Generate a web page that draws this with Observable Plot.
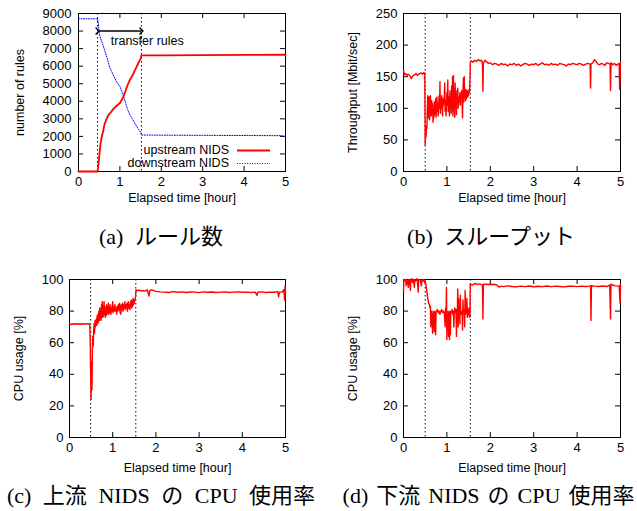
<!DOCTYPE html>
<html><head><meta charset="utf-8">
<script src="https://cdn.jsdelivr.net/npm/d3@7"></script>
<script src="https://cdn.jsdelivr.net/npm/@observablehq/plot@0.6"></script>
<style>
html,body{margin:0;padding:0;background:#fff}
#root{position:relative;width:637px;height:511px;overflow:hidden;background:#fff}
.cap{position:absolute;white-space:nowrap;transform:translate(-50%,-50%);font-family:"Liberation Serif","Noto Sans CJK JP",serif;font-size:22px;color:#000;line-height:1;word-spacing:6px}
.cap .jp{font-family:"Noto Sans CJK JP",sans-serif}
.leg{position:absolute;font-family:"Liberation Sans",Arial,sans-serif;font-size:12.5px;color:#000;white-space:nowrap;line-height:1}
</style>
</head><body>
<div id="root"></div>
<script>
// ---------- data ----------
const xTicks = [0, 1, 2, 3, 4, 5];
const yTicksRules = [0, 1000, 2000, 3000, 4000, 5000, 6000, 7000, 8000, 9000];
const yTicksThr = [0, 50, 100, 150, 200, 250];
const yTicksCpu = [0, 20, 40, 60, 80, 100];

const seriesNames = ["upstream NIDS", "downstream NIDS"];
const xLabel = "Elapsed time [hour]";
const yLabels = ["number of rules", "Throughput [Mbit/sec]", "CPU usage [%]", "CPU usage [%]"];

// transfer period boundaries (hours)
const eventsA = [0.46, 1.52];
const eventsB = [0.5, 1.54];
const eventsC = [0.49, 1.535];
const eventsD = [0.5, 1.54];
const transferLabel = "transfer rules";
const transferArrow = {x1: 0.46, x2: 1.52, y: 8000};
const transferText = {x: 0.78, y: 7450};

// (a) number of rules
const tUp =   [0, 0.46, 0.47, 0.48, 0.50, 0.53, 0.56, 0.60, 0.63, 0.67, 0.71, 0.75, 0.79, 0.84, 0.90, 0.95, 1.00, 1.05, 1.10, 1.15, 1.20, 1.25, 1.30, 1.35, 1.40, 1.45, 1.50, 1.52, 2.0, 3.0, 4.0, 5.0];
const nUp =   [0, 0,    150,  400,  820,  1550, 1950, 2350, 2700, 2950, 3150, 3300, 3400, 3550, 3700, 3800, 3900, 4100, 4350, 4700, 5000, 5250, 5450, 5700, 5950, 6200, 6430, 6620, 6620, 6630, 6640, 6650];
const tDown = [0, 0.46, 0.48, 0.50, 0.53, 0.56, 0.60, 0.65, 0.70, 0.75, 0.80, 0.85, 0.90, 0.95, 1.00, 1.05, 1.10, 1.15, 1.20, 1.25, 1.30, 1.35, 1.40, 1.45, 1.50, 1.52, 2.0, 3.0, 4.0, 4.9, 5.0];
const nDown = [8700, 8700, 8400, 7900, 7600, 7400, 7150, 6750, 6400, 5950, 5700, 5450, 5200, 5000, 4850, 4550, 4200, 3800, 3450, 3200, 3000, 2800, 2600, 2400, 2250, 2080, 2070, 2060, 2050, 2040, 2000];

// (b) throughput [Mbit/sec]
const tThr = [0.00,0.02,0.05,0.08,0.10,0.13,0.16,0.18,0.20,0.23,0.26,0.29,0.32,0.35,0.38,0.41,0.44,0.47,0.49,
 0.50,0.51,0.52,0.53,0.54,0.55,0.56,0.57,0.58,0.59,0.60,0.61,0.62,0.63,0.64,0.65,0.66,0.67,0.68,0.69,0.70,
 0.71,0.72,0.73,0.74,0.75,0.76,0.77,0.78,0.79,0.80,0.82,0.83,0.84,0.85,0.86,0.87,0.88,0.90,0.91,0.92,0.94,
 0.95,0.96,0.97,0.98,1.00,1.01,1.02,1.03,1.04,1.05,1.06,1.07,1.08,1.09,1.10,1.11,1.12,1.13,1.14,1.15,1.16,
 1.17,1.18,1.19,1.20,1.21,1.22,1.23,1.24,1.25,1.26,1.28,1.29,1.30,1.31,1.32,1.33,1.34,1.35,1.36,1.37,1.38,
 1.39,1.40,1.41,1.42,1.43,1.44,1.45,1.46,1.47,1.48,1.49,1.50,1.51,1.52,1.53,1.54,1.56,1.60,1.64,1.68,1.72,
 1.76,1.80,1.82,1.83,1.84,1.88,1.92,1.96,2.00,2.05,2.10,2.15,2.20,2.25,2.30,2.35,2.40,2.45,2.50,2.55,2.60,
 2.65,2.70,2.75,2.80,2.85,2.90,2.95,3.00,3.05,3.10,3.15,3.20,3.25,3.30,3.35,3.40,3.45,3.50,3.55,3.60,3.65,
 3.70,3.75,3.80,3.85,3.90,3.95,4.00,4.05,4.10,4.15,4.20,4.25,4.30,4.31,4.32,4.36,4.40,4.44,4.48,4.52,4.56,
 4.60,4.64,4.68,4.72,4.76,4.77,4.78,4.82,4.86,4.90,4.94,4.97,4.98,5.00];
const vThr = [160,153,155,152,154,153,150,147,150,152,153,155,152,154,155,156,154,157,155,
 42,65,55,72,68,100,120,85,110,118,82,95,120,105,88,112,98,107,78,95,85,
 110,98,90,115,86,102,118,95,108,88,120,100,142,92,110,100,120,88,115,105,118,
 140,95,112,88,125,105,145,95,118,110,88,128,100,118,92,135,98,150,88,152,95,
 130,86,140,100,120,90,128,108,132,100,118,110,125,105,120,115,128,112,85,125,148,
 110,150,118,125,112,130,115,120,128,118,125,120,130,125,140,172,175,173,176,174,177,
 175,176,170,127,172,176,173,171,172,169,171,170,168,171,169,170,167,170,169,171,168,
 170,167,169,171,170,168,170,169,171,168,170,172,169,170,168,171,169,170,168,171,170,
 169,167,170,169,171,170,169,171,170,168,170,171,170,132,170,172,177,174,170,169,171,
 170,168,172,171,170,128,172,169,171,168,170,171,130,174];

// (c) upstream NIDS CPU usage [%]
const tCpuUp = [0.00,0.05,0.10,0.15,0.20,0.25,0.30,0.35,0.40,0.45,0.47,0.48,0.49,0.50,0.51,0.52,0.53,0.54,0.55,
 0.56,0.57,0.58,0.59,0.60,0.62,0.63,0.64,0.65,0.66,0.67,0.68,0.69,0.70,0.71,0.72,0.73,0.74,0.75,0.76,0.77,
 0.78,0.79,0.80,0.81,0.82,0.83,0.84,0.85,0.86,0.87,0.88,0.89,0.90,0.91,0.92,0.93,0.94,0.95,0.96,0.97,0.98,
 1.00,1.01,1.02,1.03,1.05,1.06,1.08,1.09,1.10,1.12,1.13,1.14,1.16,1.17,1.18,1.19,1.20,1.22,1.23,1.24,1.26,
 1.27,1.28,1.29,1.30,1.32,1.33,1.34,1.36,1.37,1.38,1.40,1.41,1.42,1.43,1.44,1.45,1.46,1.47,1.48,1.49,1.50,
 1.52,1.53,1.54,1.58,1.62,1.66,1.70,1.75,1.80,1.84,1.86,1.90,1.95,2.00,2.10,2.20,2.30,2.40,2.50,2.60,2.70,
 2.80,2.90,3.00,3.10,3.20,3.30,3.40,3.50,3.60,3.70,3.80,3.90,4.00,4.10,4.20,4.30,4.34,4.36,4.45,4.55,4.65,
 4.75,4.82,4.84,4.86,4.92,4.96,4.98,4.99,5.00];
const vCpuUp = [72,71.5,72,71.8,72,71.7,72,71.8,72,72,71,60,40,24,48,30,55,64,58,
 68,72,66,74,70,75,71,77,72,78,73,80,74,82,75,79,74,84,76,86,76,
 82,77,86,78,83,76,80,77,84,78,82,79,85,78,81,79,84,80,78,82,80,
 86,79,83,80,84,80,82,78,83,80,84,81,85,79,83,78,84,81,85,80,84,
 82,86,81,84,82,85,80,86,82,84,81,86,83,87,82,85,83,88,84,87,85,
 88,89,93.5,93,93.2,92.8,93,92.6,93.5,89.5,93,93.5,93,92.5,92.2,92,91.8,92.3,91.9,92.2,91.8,
 92.1,92,91.7,92.2,91.9,92.1,91.8,92,92.2,91.8,92,92.2,91.9,92,91.8,92,90,92,92.2,91.8,92,
 91.9,92.3,89,92,92,93.5,87,96,91];

// (d) downstream NIDS CPU usage [%]
const tCpuDown = [0.00,0.01,0.03,0.05,0.06,0.07,0.09,0.11,0.12,0.14,0.16,0.17,0.19,0.21,0.23,0.25,0.26,0.28,0.30,
 0.32,0.34,0.35,0.37,0.39,0.41,0.43,0.45,0.47,0.49,0.50,0.52,0.54,0.56,0.58,0.60,0.61,0.62,0.63,0.64,0.65,
 0.66,0.67,0.68,0.69,0.70,0.71,0.72,0.73,0.74,0.75,0.76,0.78,0.80,0.82,0.84,0.86,0.88,0.90,0.92,0.94,0.96,
 0.97,0.98,0.99,1.00,1.01,1.02,1.03,1.04,1.05,1.06,1.07,1.08,1.09,1.10,1.11,1.12,1.14,1.15,1.16,1.17,1.18,
 1.19,1.20,1.21,1.22,1.23,1.24,1.25,1.26,1.27,1.28,1.29,1.30,1.31,1.32,1.34,1.35,1.36,1.37,1.38,1.39,1.40,
 1.41,1.42,1.43,1.44,1.45,1.46,1.47,1.48,1.49,1.50,1.51,1.52,1.53,1.54,1.58,1.62,1.66,1.70,1.75,1.80,1.82,
 1.83,1.84,1.90,1.95,2.00,2.10,2.15,2.20,2.25,2.30,2.40,2.50,2.60,2.70,2.80,2.90,3.00,3.10,3.20,3.30,3.40,
 3.50,3.60,3.70,3.80,3.90,4.00,4.10,4.20,4.28,4.31,4.32,4.33,4.40,4.50,4.60,4.70,4.75,4.77,4.78,4.82,4.88,
 4.94,4.97,4.99,5.00];
const vCpuDown = [92,100,99.5,100,96,100,99,95,100,99.5,93,100,100.5,98,100,95,100,99,100.5,
 99,92,100,100,99.5,96,100,99,100,98,99,96,92,88,85,84,82,83,70,80,72,
 78,66,80,70,79,67,80,78,65,79,80,81,79,80,78,80,81,79,80,79,70,
 82,78,95,62,78,70,80,64,79,62,80,65,78,80,79,81,78,80,70,79,82,
 80,79,81,64,80,78,94,70,88,76,80,72,90,78,79,80,68,87,79,81,80,
 70,93,78,80,79,88,76,82,78,80,77,82,76,97,96.5,97,97.5,96.8,97.2,96.8,96.5,
 75,97,97,96.8,97,96.8,96.5,95.2,95.8,95.5,96,95.6,95.3,95.8,95.5,95.9,95.4,95.7,95.5,95.9,95.5,
 95.8,95.6,95.3,95.7,95.8,95.5,95.8,95.6,95.8,96,74,96,95.8,95.6,95.9,95.6,96.5,75,97,96.5,96,
 95.8,96,85,97];

// ---------- drawing ----------
const FONT = "'Liberation Sans', Arial, Helvetica, sans-serif";
const root = document.getElementById("root");
const RED = "#ff0000", BLUE = "#0000ff";
const zip = (t, v) => t.map((x, i) => ({t: x, v: v[i]}));

function panel({left, top, width, ml, mr, yDomain, yTicks, yLabel, yLabelDx, xLabelDy, yPad, events, marks}) {
  const height = 216, mt = 13, mb = 45;
  const fw = width - ml - mr, fh = height - mt - mb, tl = 5;
  const p = Plot.plot({
    width, height, marginLeft: ml, marginRight: mr, marginTop: mt, marginBottom: mb,
    style: {fontFamily: FONT, fontSize: "13px", color: "#000", background: "transparent", overflow: "visible"},
    x: {domain: [0, 5]},
    y: {domain: yDomain},
    marks: [
      Plot.frame({stroke: "#000", strokeWidth: 1}),
      Plot.tickX(xTicks, {x: d => d, insetTop: fh - tl, stroke: "#000"}),
      Plot.tickX(xTicks, {x: d => d, insetBottom: fh - tl, stroke: "#000"}),
      Plot.tickY(yTicks, {y: d => d, insetRight: fw - tl, stroke: "#000"}),
      Plot.tickY(yTicks, {y: d => d, insetLeft: fw - tl, stroke: "#000"}),
      Plot.axisX({ticks: xTicks, tickSize: 0, tickPadding: 5, label: null, tickFormat: d3.format("d"), fill: "#000", fontSize: 13}),
      Plot.axisY({ticks: yTicks, tickSize: 0, tickPadding: yPad, label: null, tickFormat: d3.format("d"), fill: "#000", fontSize: 13}),
      Plot.text([xLabel], {text: d => d, frameAnchor: "bottom", dy: xLabelDy, lineAnchor: "middle", textAnchor: "middle", fontSize: 12.5, fill: "#000"}),
      Plot.text([yLabel], {text: d => d, frameAnchor: "left", dx: yLabelDx, rotate: -90, lineAnchor: "middle", textAnchor: "middle", fontSize: 12.5, fill: "#000"}),
      Plot.ruleX(events, {x: d => d, stroke: "#000", strokeWidth: 1, strokeDasharray: "1.5,2.5"}),
      ...marks
    ]
  });
  p.style.position = "absolute";
  p.style.left = left + "px";
  p.style.top = top + "px";
  root.append(p);
}

// (a)
panel({
  left: 0, top: 0, width: 320, ml: 78, mr: 35, yDomain: [0, 9000], yTicks: yTicksRules,
  yLabel: yLabels[0], yLabelDx: -59, xLabelDy: 26, yPad: 7, events: eventsA,
  marks: [
    Plot.link([transferArrow], {x1: "x1", x2: "x2", y1: "y", y2: "y", stroke: "#000", strokeWidth: 1.5, markerStart: "arrow", markerEnd: "arrow"}),
    Plot.text([transferText], {x: "x", y: "y", text: () => transferLabel, textAnchor: "start", fontSize: 12.5, fill: "#000"}),
    Plot.line(zip(tDown, nDown), {x: "t", y: "v", stroke: BLUE, strokeWidth: 1, strokeDasharray: "1,1.5"}),
    Plot.line(zip(tUp, nUp), {x: "t", y: "v", stroke: RED, strokeWidth: 1.8})
  ]
});
// (b)
panel({
  left: 320, top: 0, width: 317, ml: 83, mr: 17, yDomain: [0, 250], yTicks: yTicksThr,
  yLabel: yLabels[1], yLabelDx: -51, xLabelDy: 26, yPad: 6, events: eventsB,
  marks: [Plot.line(zip(tThr, vThr), {x: "t", y: "v", stroke: RED, strokeWidth: 1.4})]
});
// (c)
panel({
  left: 0, top: 266, width: 320, ml: 69, mr: 35, yDomain: [0, 100], yTicks: yTicksCpu,
  yLabel: yLabels[2], yLabelDx: -51, xLabelDy: 30, yPad: 6, events: eventsC,
  marks: [Plot.line(zip(tCpuUp, vCpuUp), {x: "t", y: "v", stroke: RED, strokeWidth: 1.4})]
});
// (d)
panel({
  left: 320, top: 266, width: 317, ml: 83, mr: 17, yDomain: [0, 100], yTicks: yTicksCpu,
  yLabel: yLabels[3], yLabelDx: -51, xLabelDy: 30, yPad: 6, events: eventsD,
  marks: [Plot.line(zip(tCpuDown, vCpuDown), {x: "t", y: "v", stroke: RED, strokeWidth: 1.4})]
});

// legend for (a)
const leg = document.createElement("div");
leg.style.cssText = "position:absolute;left:0;top:0;width:637px;height:511px;pointer-events:none";
leg.innerHTML = `
<div class="leg" style="right:${637-229}px;top:143.5px">${seriesNames[0]}</div>
<div class="leg" style="right:${637-229}px;top:156.5px">${seriesNames[1]}</div>
<svg style="position:absolute;left:0;top:0" width="637" height="511">
  <line x1="237" x2="270" y1="150.5" y2="150.5" stroke="${RED}" stroke-width="1.8"/>
  <line x1="237" x2="270" y1="163.5" y2="163.5" stroke="${BLUE}" stroke-width="1" stroke-dasharray="1,1.5"/>
</svg>`;
root.append(leg);

// captions
function cap(x, y, parts, ws) {
  const d = document.createElement("div");
  d.className = "cap";
  d.style.left = x + "px"; d.style.top = y + "px";
  if (ws != null) d.style.wordSpacing = ws + "px";
  d.innerHTML = parts.map(([s, jp]) => jp ? `<span class="jp">${s}</span>` : `<span>${s}</span>`).join("");
  root.append(d);
}
cap(161, 235, [["(a) ", 0], ["ルール数", 1]]);
cap(491, 235, [["(b) ", 0], ["スループット", 1]]);
cap(161, 494, [["(c) ", 0], ["上流", 1], [" NIDS ", 0], ["の", 1], [" CPU ", 0], ["使用率", 1]]);
cap(488.5, 494, [["(d) ", 0], ["下流", 1], [" NIDS ", 0], ["の", 1], [" CPU ", 0], ["使用率", 1]], 2.5);
</script>
</body></html>
